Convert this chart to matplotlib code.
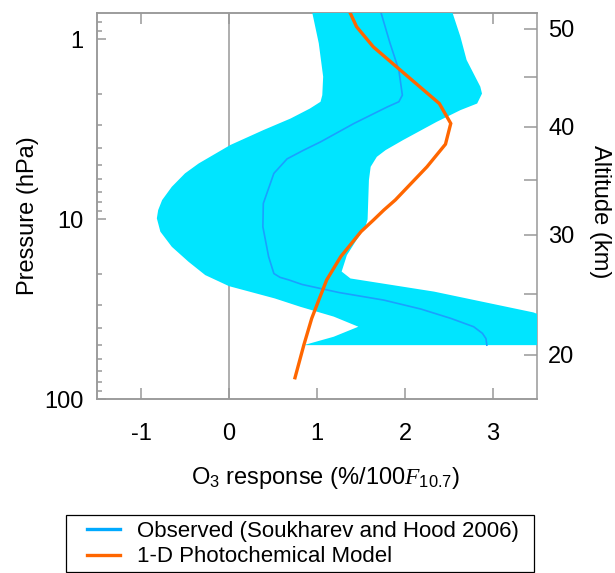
import numpy as np
import matplotlib
matplotlib.use('Agg')
import matplotlib.pyplot as plt
from matplotlib.lines import Line2D
from matplotlib.patches import Rectangle
from matplotlib.ticker import NullFormatter

plt.rcParams['font.family'] = ['Liberation Sans', 'DejaVu Sans']
plt.rcParams['mathtext.fontset'] = 'custom'
plt.rcParams['mathtext.rm'] = 'Liberation Sans'
plt.rcParams['mathtext.it'] = 'Liberation Serif:italic'

# observed band (Soukharev and Hood 2006): lower / upper edge, pressure in hPa
lo_p = [0.65, 0.687, 1.05, 1.61, 2.04, 2.22, 2.42, 2.75, 3.19, 3.86, 4.89, 5.55, 6.59,
        7.81, 8.88, 9.87, 11.7, 14.2, 17.2, 20.4, 23.5, 27.5,
        30.6, 34.7, 39.5, 44.9, 50.0]
lo_x = [0.93, 0.94, 1.02, 1.07, 1.06, 1.04, 0.92, 0.70, 0.39, 0.015, -0.345, -0.50, -0.65,
        -0.76, -0.805, -0.82, -0.78, -0.65, -0.46, -0.27, 0.0, 0.52,
        0.81, 1.19, 1.47, 1.19, 0.85]
hi_p = [0.65, 0.687, 0.967, 1.30, 1.83, 2.0, 2.27, 2.47, 2.87, 3.62, 4.12, 4.49, 5.1,
        6.05, 10.0, 11.0, 13.0, 15.8, 19.5, 21.3, 25.2, 32.9, 40.0, 50.0]
hi_x = [2.50, 2.53, 2.63, 2.70, 2.856, 2.875, 2.82, 2.63, 2.36, 1.98, 1.78, 1.68, 1.61,
        1.59, 1.575, 1.55, 1.45, 1.34, 1.28, 1.38, 2.33, 3.46, 3.9, 4.1]

# observed mean profile
obs_p = [0.69, 1.05, 1.48, 2.04, 2.22, 2.37, 2.93, 3.71, 4.12, 4.61, 5.55, 8.15, 11.0,
         16.1, 20.0, 21.0, 21.7, 23.0, 25.5, 28.1, 31.5, 35.5, 39.5, 43.0, 46.0, 50.0]
obs_x = [1.72, 1.83, 1.93, 1.97, 1.93, 1.80, 1.42, 1.04, 0.85, 0.66, 0.51, 0.39, 0.385,
         0.45, 0.51, 0.58, 0.68, 0.83, 1.25, 1.76, 2.18, 2.52, 2.78, 2.88, 2.92, 2.93]

# 1-D photochemical model
mod_p = [0.70, 0.85, 1.10, 2.27, 2.93, 3.82, 5.1, 7.8, 8.87, 10.1, 11.7, 16.1, 21.7,
         28.1, 35.5, 50.0, 75.9]
mod_x = [1.37, 1.45, 1.64, 2.39, 2.52, 2.46, 2.25, 1.89, 1.76, 1.64, 1.50, 1.27, 1.11,
         1.02, 0.94, 0.85, 0.75]

# altitude axis ticks (km) and their pressure levels (hPa)
alt_major = ['20', '30', '40', '50']
alt_major_p = [56.5, 12.2, 3.06, 0.87]
alt_minor_p = [26.0, 6.05, 1.61]

gray = '#999999'
cyan = '#00E5FF'
blue = '#1AA0FF'
orange = '#FF6600'

fig = plt.figure(figsize=(6.15, 5.73), dpi=100)
ax = fig.add_axes([97 / 615, 1 - 399.3 / 573, 440 / 615, 386.6 / 573])
ax2 = ax.twinx()
ax.set_zorder(ax2.get_zorder() + 1)
ax.patch.set_visible(False)

ax.axvline(0, color=gray, lw=1.1, zorder=1)
band_x = np.concatenate([hi_x, lo_x[::-1]])
band_p = np.concatenate([hi_p, lo_p[::-1]])
ax.fill(band_x, band_p, color=cyan, lw=0, zorder=3)
ax.plot(obs_x, obs_p, color=blue, lw=1.2, zorder=3.5)
ax.plot(mod_x, mod_p, color=orange, lw=2.4, zorder=4, solid_joinstyle='miter')

for a in (ax, ax2):
    a.set_yscale('log')
    a.set_ylim(100, 0.71)
    for s in a.spines.values():
        s.set_color(gray)
        s.set_linewidth(1.1)

ax.set_xlim(-1.5, 3.5)
ax.set_xticks([-1, 0, 1, 2, 3])
ax.set_xticklabels(['-1', '0', '1', '2', '3'])
ax.set_yticks([1, 10, 100])
ax.set_yticklabels(['1', '10', '100'])
ax.yaxis.set_minor_formatter(NullFormatter())
ax.spines['right'].set_visible(False)

ax.tick_params(axis='x', which='both', direction='in', length=8, width=1.1, color=gray,
               top=True, labelsize=17, pad=17)
ax.tick_params(axis='y', which='major', direction='in', length=6.7, width=1.1, color=gray,
               labelsize=17, pad=9.5, right=False)
ax.tick_params(axis='y', which='minor', direction='in', length=3.6, width=1.1, color=gray,
               right=False)

ax2.set_yticks(alt_major_p)
ax2.set_yticklabels(alt_major)
ax2.set_yticks(alt_minor_p, minor=True)
ax2.yaxis.set_minor_formatter(NullFormatter())
ax2.tick_params(axis='y', which='both', direction='in', length=9.4, width=1.1, color=gray,
                labelsize=17, pad=8)

ax.set_xlabel('O$_3$ response (%/100$F_{10.7}$)', fontsize=17)
ax.xaxis.set_label_coords(0.52, -0.17)
ax.set_ylabel('Pressure (hPa)', fontsize=17)
ax.yaxis.set_label_coords(-0.132, 0.475)
ax2.set_ylabel('Altitude (km)', fontsize=17, rotation=270, va='center')
ax2.yaxis.set_label_coords(1.143, 0.485)

# legend below the plot
fig.add_artist(Rectangle((66 / 615, 1 - 572 / 573), 468 / 615, 57 / 573,
                         transform=fig.transFigure, fill=False, ec='black', lw=0.9))
handles = [Line2D([], [], color='#00AAFF', lw=2.4),
           Line2D([], [], color=orange, lw=2.4)]
labels = ['Observed (Soukharev and Hood 2006)', '1-D Photochemical Model']
fig.legend(handles, labels, loc='upper left', bbox_to_anchor=(87 / 615, 1 - 521 / 573),
           frameon=False, fontsize=16, handlelength=1.5, handletextpad=0.75,
           labelspacing=0.2, borderpad=0, borderaxespad=0)

fig.savefig('out.png', dpi=100)
